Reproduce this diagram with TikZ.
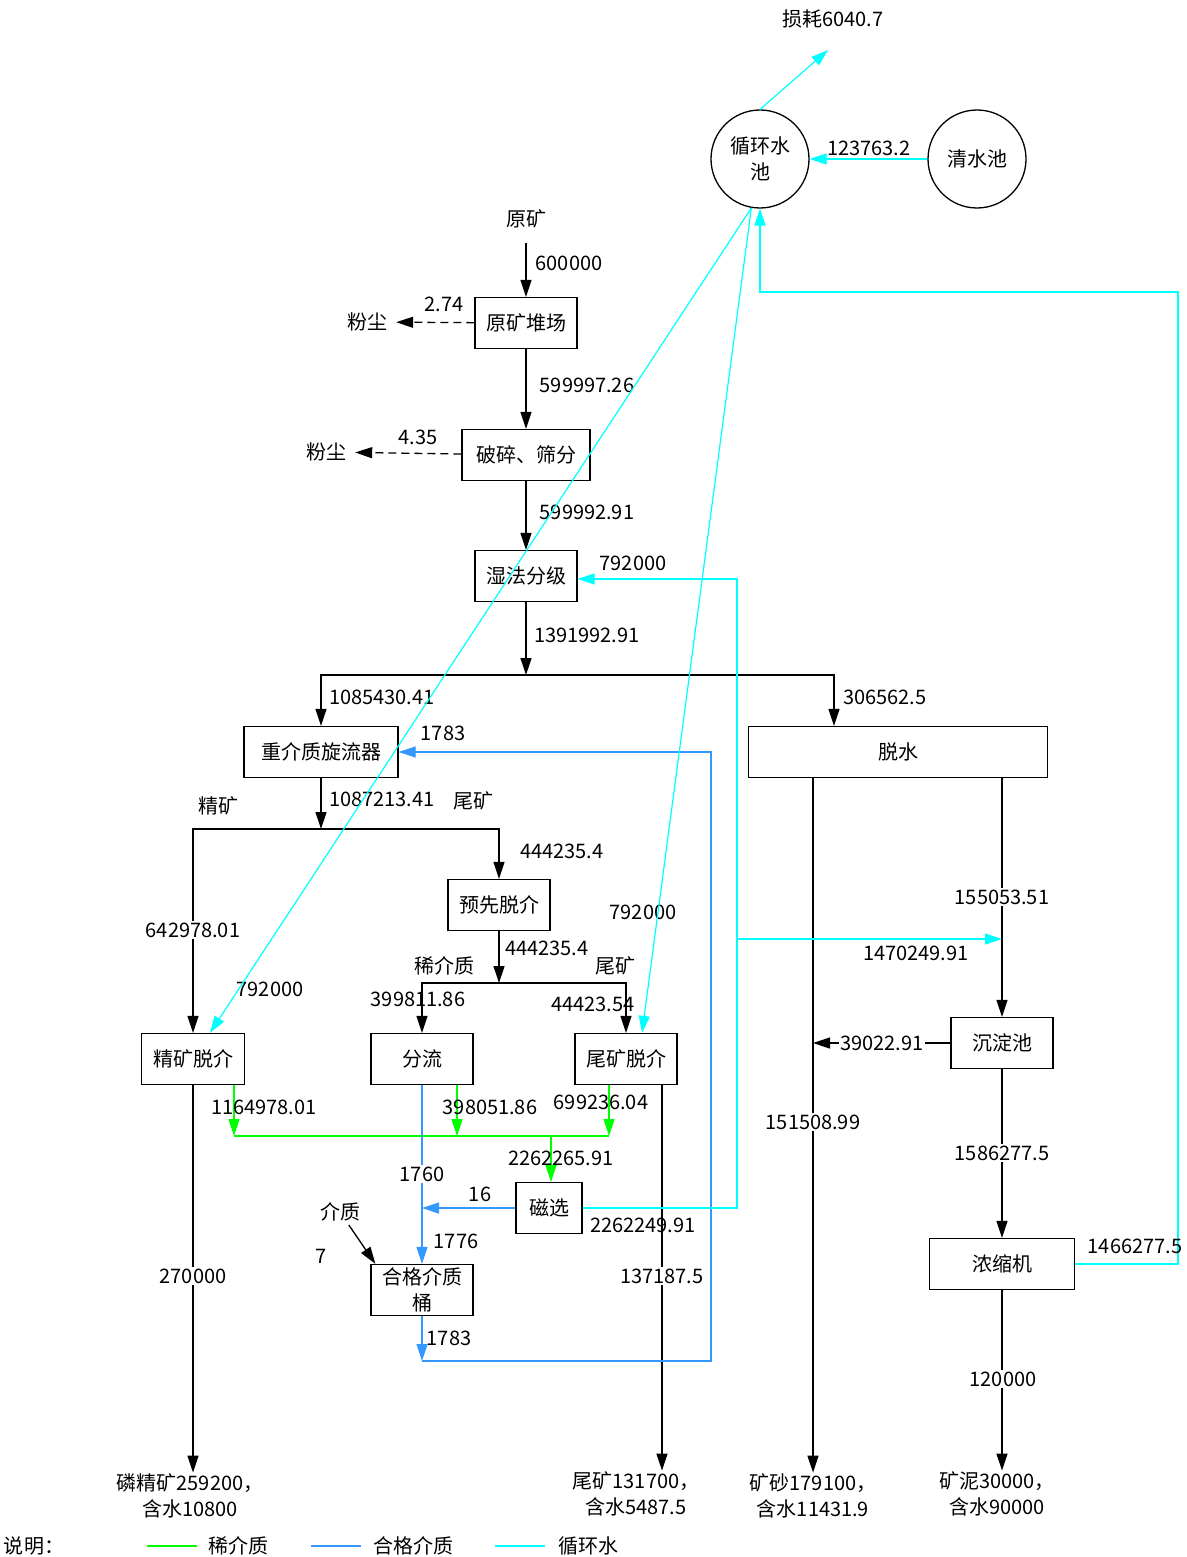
\documentclass[tikz,border=0pt]{standalone}
\usepackage{fontspec}
\setmainfont{Noto Sans CJK SC}
\usetikzlibrary{arrows.meta}
\definecolor{dilmed}{RGB}{0,255,0}
\definecolor{goodmed}{RGB}{51,153,255}
\definecolor{cycwater}{RGB}{0,255,255}

\begin{document}
\begin{tikzpicture}[x=1pt,y=-1pt,
    every node/.style={font=\fontsize{20}{26}\selectfont, inner sep=1pt},
    unit/.style={draw, line width=1.3pt, minimum height=51pt, minimum width=#1, inner sep=0pt, align=center},
    pool/.style={draw, circle, line width=1.3pt, minimum size=98pt, inner sep=0pt, align=center},
    onl/.style={fill=white, inner sep=2pt},
    flow/.style={line width=1.3pt, -{Triangle[length=17pt,width=11pt]}},
    dust/.style={flow, dash pattern=on 8pt off 5pt, shorten >=8pt},
    water/.style={cycwater, line width=1.2pt, -{Triangle[length=17pt,width=11pt]}},
    dil/.style={dilmed, line width=1.2pt, -{Triangle[length=17pt,width=11pt]}},
    med/.style={goodmed, line width=1.2pt, -{Triangle[length=17pt,width=11pt]}}]
      \useasboundingbox (0,0) rectangle (1186,1557);
      % pools
      \node[pool] (xhs) at (760,159) {循环水\\池};
      \node[pool] (qsc) at (977,159) {清水池};
      \node (sh) at (833,19) {损耗6040.7};
      \coordinate (shend) at (828,50);
      % main line
      \node (yk) at (526,219) {原矿};
      \node[unit=102pt] (dui) at (526,323) {原矿堆场};
      \node[unit=128pt] (psf) at (526,455) {破碎、筛分};
      \node[unit=102pt] (sffj) at (526,576) {湿法分级};
      \node (fc1) at (367,322) {粉尘};
      \node (fc2) at (326,452) {粉尘};
      \coordinate (j1) at (526,675);
      \node[unit=154pt] (zjz) at (321,752) {重介质旋流器};
      \node[unit=299pt] (ts) at (898,752) {脱水};
      \coordinate (j2) at (321,829);
      \node[unit=102pt] (yxtj) at (499,905) {预先脱介};
      \coordinate (j3) at (499,983);
      \node[unit=103pt] (jktj) at (193,1059) {精矿脱介};
      \node[unit=102pt] (fl) at (422,1059) {分流};
      \node[unit=102pt] (wtj) at (626,1059) {尾矿脱介};
      \node[unit=66pt] (cx) at (549,1208) {磁选};
      \node[unit=102pt] (hgt) at (422,1290) {合格介质\\桶};
      \node (jz) at (340,1212) {介质};
      \node[unit=102pt] (cdc) at (1002,1043) {沉淀池};
      \node[unit=145pt] (nsj) at (1002,1264) {浓缩机};
      % products
      \node[align=center] (ljk) at (190,1496) {磷精矿259200，\\含水10800};
      \node[align=center] (wk) at (636,1494) {尾矿131700，\\含水5487.5};
      \node[align=center] (ks) at (813,1496) {矿砂179100，\\含水11431.9};
      \node[align=center] (kn) at (997,1494) {矿泥30000，\\含水90000};
      \coordinate (wtout) at ([xshift=36pt]wtj.south);
      \coordinate (tsl) at ([xshift=-85pt]ts.south);
      \coordinate (tsr) at ([xshift=104pt]ts.south);
      % ore flow
      \draw[flow, shorten <=14pt] (yk) -- (dui);
      \draw[flow] (dui) -- (psf);
      \draw[flow] (psf) -- (sffj);
      \draw[dust] (dui) -- (fc1);
      \draw[dust] (psf) -- (fc2);
      \draw[flow] (sffj) -- (j1);
      \draw[flow] (j1) -| (zjz.north);
      \draw[flow] (j1) -| ([xshift=-64pt]ts.north);
      \draw[flow] (zjz) -- (j2);
      \draw[flow] (j2) -| (jktj.north);
      \draw[flow] (j2) -| (yxtj.north);
      \draw[flow] (yxtj) -- (j3);
      \draw[flow] (j3) -| (fl.north);
      \draw[flow] (j3) -| (wtj.north);
      \draw[flow] (jktj) -- (jktj.south |- ljk.north);
      \draw[flow] (wtout) -- (wtout |- wk.north);
      \draw[flow] (tsl) -- (tsl |- ks.north);
      \draw[flow] (tsr) -- (cdc.north);
      \draw[flow] (cdc.west) -- (cdc.west -| tsl);
      \draw[flow] (cdc) -- (nsj);
      \draw[flow] (nsj) -- (nsj.south |- kn.north);
      \draw[flow, shorten <=3pt] (jz) -- ([xshift=5pt]hgt.north west);
      % dilute medium
      \coordinate (g1) at (234,1136);
      \coordinate (g3) at (609,1136);
      \draw[dil] ([xshift=41pt]jktj.south) -- (g1);
      \draw[dil] ([xshift=35pt]fl.south) -- ++(0,51);
      \draw[dil] (g3 |- wtj.south) -- (g3);
      \draw[dil, -] (g1) -- (g3);
      \draw[dil] ([xshift=2pt]cx.north |- g1) -- ([xshift=2pt]cx.north);
      % good medium
      \coordinate (b1) at (422,1361);
      \draw[med] (fl) -- (hgt);
      \draw[med] (cx) -- (cx.west -| hgt);
      \draw[med] (hgt) -- (b1);
      \draw[med] (b1) -- (711,1361) |- (zjz.east);
      % water
      \coordinate (w1) at (737,939);
      \coordinate (mix) at (1002,939);
      \draw[water] (qsc) -- (xhs);
      \draw[water] (xhs.north) -- (shend);
      \draw[water] (nsj.east) -| (1178,292) -| (xhs.south);
      \draw[water] (cx.east) -| (w1) |- ([yshift=-3pt]sffj.east);
      \draw[water] (w1) -- (mix);
      % labels
      \node at (869,148) {123763.2};
      \node at (569,263) {600000};
      \node at (444,304) {2.74};
      \node at (587,385) {599997.26};
      \node at (418,437) {4.35};
      \node at (587,512) {599992.91};
      \node at (633,563) {792000};
      \node at (587,635) {1391992.91};
      \node at (382,697) {1085430.41};
      \node at (885,697) {306562.5};
      \node at (443,733) {1783};
      \node at (382,799) {1087213.41};
      \node at (473,801) {尾矿};
      \node at (218,806) {精矿};
      \node at (562,851) {444235.4};
      \node[onl] at (1002,897) {155053.51};
      \node at (643,912) {792000};
      \node[onl] at (193,930) {642978.01};
      \node at (547,948) {444235.4};
      \node at (916,953) {1470249.91};
      \node at (444,966) {稀介质};
      \node at (615,966) {尾矿};
      \node at (270,989) {792000};
      \node at (418,999) {399811.86};
      \node at (593,1004) {44423.54};
      \node[onl, inner sep=1pt] at (882,1043) {39022.91};
      \node at (264,1107) {1164978.01};
      \node at (490,1107) {398051.86};
      \node at (601,1102) {699236.04};
      \node[onl] at (813,1122) {151508.99};
      \node[onl] at (1002,1153) {1586277.5};
      \node at (561,1158) {2262265.91};
      \node[onl] at (422,1174) {1760};
      \node at (480,1194) {16};
      \node at (643,1225) {2262249.91};
      \node at (456,1241) {1776};
      \node at (1135,1246) {1466277.5};
      \node at (321,1256) {7};
      \node[onl] at (193,1276) {270000};
      \node[onl] at (662,1276) {137187.5};
      \node at (449,1338) {1783};
      \node[onl] at (1003,1379) {120000};
      % water to the classifiers
      \draw[water] (xhs.260) -- ([xshift=17pt]jktj.north);
      \draw[water] (xhs.260) -- ([xshift=16pt]wtj.north);
      % legend
      \node (sm) at (34,1546) {说明：};
      \draw[dil, -] (147,1546) -- (197,1546);
      \node at (238,1546) {稀介质};
      \draw[med, -] (311,1546) -- (361,1546);
      \node at (413,1546) {合格介质};
      \draw[water, -] (495,1546) -- (545,1546);
      \node at (588,1546) {循环水};
\end{tikzpicture}
\end{document}
